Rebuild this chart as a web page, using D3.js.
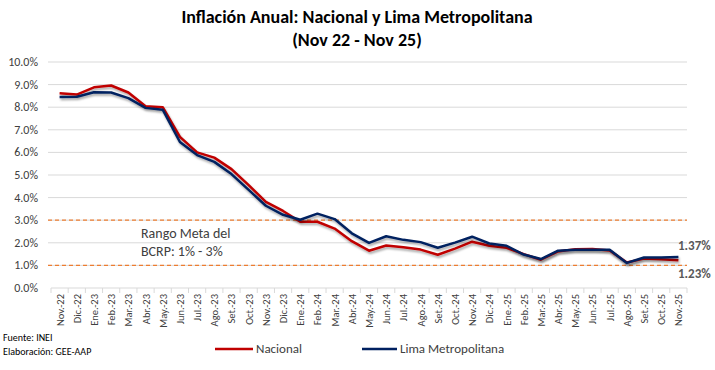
<!DOCTYPE html>
<html>
<head>
<meta charset="utf-8">
<script src="https://cdn.jsdelivr.net/npm/d3@7"></script>
<style>
  body { margin: 0; background: #fff; }
  svg { font-family: Carlito, "Open Sans", "Noto Sans", sans-serif; }
</style>
</head>
<body>
<div class="container"></div>
<script>
const months = ["Nov.-22","Dic.-22","Ene.-23","Feb.-23","Mar.-23","Abr.-23","May.-23","Jun.-23","Jul.-23","Ago.-23","Set.-23","Oct.-23",
  "Nov.-23","Dic.-23","Ene.-24","Feb.-24","Mar.-24","Abr.-24","May.-24","Jun.-24","Jul.-24","Ago.-24","Set.-24","Oct.-24",
  "Nov.-24","Dic.-24","Ene.-25","Feb.-25","Mar.-25","Abr.-25","May.-25","Jun.-25","Jul.-25","Ago.-25","Set.-25","Oct.-25","Nov.-25"]

const nacional = [8.62,8.56,8.88,8.96,8.65,8.04,8.00,6.69,6.00,5.77,5.26,4.55,
  3.81,3.41,2.93,2.93,2.63,2.07,1.65,1.88,1.80,1.70,1.47,1.74,
  2.05,1.87,1.78,1.50,1.25,1.62,1.72,1.73,1.66,1.13,1.30,1.27,1.23]

const lima = [8.45,8.46,8.66,8.65,8.40,7.97,7.89,6.46,5.88,5.58,5.04,4.34,
  3.64,3.24,3.02,3.29,3.05,2.42,2.00,2.29,2.13,2.03,1.78,2.01,
  2.27,1.97,1.87,1.48,1.28,1.65,1.69,1.69,1.69,1.11,1.35,1.35,1.37]

const yTicks = [0,1,2,3,4,5,6,7,8,9,10]
const metaRange = [1, 3]

const svg = d3.select(".container")
              .append("svg")
              .attr("width", 715)
              .attr("height", 370)

const defs = svg.append("defs")
const filter = defs.append("filter").attr("id", "shadow")
                   .attr("x", "-5%").attr("y", "-20%").attr("width", "110%").attr("height", "140%")
filter.append("feDropShadow")
      .attr("dx", 1).attr("dy", 2).attr("stdDeviation", 1.3)
      .attr("flood-color", "#000").attr("flood-opacity", 0.35)

const x = d3.scalePoint().domain(months).range([51, 687]).padding(0.5)
const y = d3.scaleLinear().domain([0, 10]).range([288, 62])

// title
svg.append("text").attr("x", 357).attr("y", 23).attr("text-anchor", "middle")
   .attr("font-size", 18).attr("font-weight", "bold").attr("fill", "#000")
   .text("Inflación Anual: Nacional y Lima Metropolitana")
svg.append("text").attr("x", 357).attr("y", 46).attr("text-anchor", "middle")
   .attr("font-size", 18).attr("font-weight", "bold").attr("fill", "#000")
   .text("(Nov 22 - Nov 25)")

// gridlines
svg.append("g").selectAll("line")
   .data(yTicks.filter(d => d > 0))
   .enter().append("line")
   .attr("x1", 48).attr("x2", 687)
   .attr("y1", d => y(d)).attr("y2", d => y(d))
   .attr("stroke", "#d9d9d9").attr("stroke-width", 1)

// y labels
svg.append("g").selectAll("text")
   .data(yTicks).enter().append("text")
   .attr("x", 38).attr("y", d => y(d) + 4)
   .attr("text-anchor", "end").attr("font-size", 12).attr("fill", "#404040")
   .text(d => d.toFixed(1) + "%")

// x axis
const step = x.step()
svg.append("line").attr("x1", x(months[0]) - step/2).attr("x2", x(months[months.length-1]) + step/2)
   .attr("y1", 288).attr("y2", 288).attr("stroke", "#d9d9d9")
svg.append("g").selectAll("line")
   .data(months.concat(["end"])).enter().append("line")
   .attr("x1", (d,i) => x(months[0]) - step/2 + i*step)
   .attr("x2", (d,i) => x(months[0]) - step/2 + i*step)
   .attr("y1", 288).attr("y2", 293).attr("stroke", "#d9d9d9")

svg.append("g").selectAll("text")
   .data(months).enter().append("text")
   .attr("transform", d => "translate(" + (x(d) + 4) + ",294) rotate(-90)")
   .attr("text-anchor", "end").attr("font-size", 10.5).attr("fill", "#404040")
   .text(d => d)

// meta range dashed lines
svg.append("g").selectAll("line")
   .data(metaRange).enter().append("line")
   .attr("x1", 48).attr("x2", 687)
   .attr("y1", d => y(d)).attr("y2", d => y(d))
   .attr("stroke", "#ED7D31").attr("stroke-width", 1.2).attr("stroke-dasharray", "4,3")

svg.append("text").attr("x", 141).attr("y", 238).attr("font-size", 14).attr("fill", "#404040").text("Rango Meta del")
svg.append("text").attr("x", 141).attr("y", 256).attr("font-size", 14).attr("fill", "#404040").text("BCRP: 1% - 3%")

// lines
const line = d3.line().x((d,i) => x(months[i])).y(d => y(d))
svg.append("path").datum(nacional).attr("d", line)
   .attr("fill", "none").attr("stroke", "#C00000").attr("stroke-width", 2.5)
   .attr("stroke-linejoin", "round").attr("filter", "url(#shadow)")
svg.append("path").datum(lima).attr("d", line)
   .attr("fill", "none").attr("stroke", "#002060").attr("stroke-width", 2.5)
   .attr("stroke-linejoin", "round").attr("filter", "url(#shadow)")

// end labels
svg.append("text").attr("x", 678).attr("y", 250).attr("font-size", 13).attr("font-weight", "bold")
   .attr("fill", "#595959").text(lima[lima.length-1].toFixed(2) + "%")
svg.append("text").attr("x", 678).attr("y", 278).attr("font-size", 13).attr("font-weight", "bold")
   .attr("fill", "#595959").text(nacional[nacional.length-1].toFixed(2) + "%")

// legend
svg.append("line").attr("x1", 215).attr("x2", 253).attr("y1", 349).attr("y2", 349)
   .attr("stroke", "#C00000").attr("stroke-width", 2.5)
svg.append("text").attr("x", 256).attr("y", 353).attr("font-size", 13).attr("fill", "#404040").text("Nacional")
svg.append("line").attr("x1", 362).attr("x2", 397).attr("y1", 349).attr("y2", 349)
   .attr("stroke", "#002060").attr("stroke-width", 2.5)
svg.append("text").attr("x", 400).attr("y", 353).attr("font-size", 13).attr("fill", "#404040").text("Lima Metropolitana")

// footer
svg.append("text").attr("x", 3).attr("y", 341).attr("font-size", 10).attr("fill", "#000").text("Fuente: INEI")
svg.append("text").attr("x", 3).attr("y", 355).attr("font-size", 10).attr("fill", "#000").text("Elaboración: GEE-AAP")
</script>
</body>
</html>
